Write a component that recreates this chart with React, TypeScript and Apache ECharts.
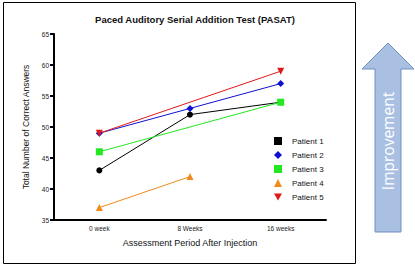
import React, { useEffect, useRef } from "react";
import * as echarts from "echarts";

const categories = ["0 week", "8 Weeks", "16 weeks"];
const patient1 = [43, 52, 54];
const patient2 = [49, 53, 57];
const patient3 = [46, null, 54];
const patient4 = [37, 42, null];
const patient5 = [49, null, 59];
const seriesNames = ["Patient 1", "Patient 2", "Patient 3", "Patient 4", "Patient 5"];
const seriesColors = ["#000000", "#1010d0", "#22e822", "#f08a1c", "#e01818"];

export default function App() {
  const ref = useRef<HTMLDivElement>(null);
  useEffect(() => {
    if (!ref.current) return;
    const chart = echarts.init(ref.current, undefined, { renderer: "svg" });
    const data = [patient1, patient2, patient3, patient4, patient5];
    const symbols = ["circle", "diamond", "rect", "triangle", "path://M0,0 L10,0 L5,9 Z"];
    const legendIcons = ["rect", "diamond", "rect", "triangle", "path://M0,0 L10,0 L5,9 Z"];
    const sizes = [6, 7, 7, 7, 7];
    chart.setOption({
      animation: false,
      backgroundColor: "#ffffff",
      title: {
        text: "Paced Auditory Serial Addition Test (PASAT)",
        left: 190,
        textAlign: "center",
        top: 9,
        textStyle: { fontFamily: "Arial, Liberation Sans", fontSize: 9.5, fontWeight: "bold", color: "#111" },
      },
      grid: { left: 54, right: 89, top: 34, bottom: 50 },
      legend: {
        orient: "vertical",
        left: 269,
        top: 132,
        itemGap: 6,
        itemWidth: 8,
        itemHeight: 8,
        textStyle: { fontFamily: "Arial, Liberation Sans", fontSize: 8, color: "#111", padding: [0, 0, 0, 5] },
        data: seriesNames.map((n, i) => ({ name: n, icon: legendIcons[i] })),
      },
      xAxis: {
        type: "category",
        data: categories,
        boundaryGap: true,
        name: "Assessment Period After Injection",
        nameLocation: "middle",
        nameGap: 18,
        nameTextStyle: { fontFamily: "Arial, Liberation Sans", fontSize: 9, color: "#111" },
        axisLine: { lineStyle: { color: "#000", width: 2 } },
        axisTick: { alignWithLabel: true, length: 4, lineStyle: { color: "#000", width: 2 } },
        axisLabel: { fontFamily: "Arial, Liberation Sans", fontSize: 6.5, color: "#222", margin: 5 },
      },
      yAxis: {
        type: "value",
        min: 35,
        max: 65,
        interval: 5,
        name: "Total Number of Correct Answers",
        nameLocation: "middle",
        nameGap: 21,
        nameTextStyle: { fontFamily: "Arial, Liberation Sans", fontSize: 8.5, color: "#111" },
        axisLine: { show: true, lineStyle: { color: "#000", width: 2 } },
        axisTick: { show: true, length: 4, lineStyle: { color: "#000", width: 2 } },
        axisLabel: { fontFamily: "Arial, Liberation Sans", fontSize: 6.5, color: "#222", margin: 5 },
        splitLine: { show: false },
      },
      series: data.map((d, i) => ({
        name: seriesNames[i],
        type: "line",
        data: d,
        connectNulls: true,
        symbol: symbols[i],
        symbolSize: sizes[i],
        itemStyle: { color: seriesColors[i] },
        lineStyle: { color: seriesColors[i], width: 1 },
      })),
      graphic: [
        {
          type: "rect",
          shape: { x: 3.5, y: 2.5, width: 352, height: 261 },
          style: { fill: "none", stroke: "#000", lineWidth: 1 },
          silent: true,
        },
        {
          type: "polygon",
          shape: {
            points: [
              [388, 43],
              [414, 69],
              [401, 69],
              [401, 232],
              [375, 232],
              [375, 69],
              [362, 69],
            ],
          },
          style: { fill: "#aac0e2", stroke: "#6f8fc0", lineWidth: 1 },
        },
        {
          type: "text",
          x: 388,
          y: 141,
          rotation: Math.PI / 2,
          style: {
            text: "Improvement",
            fill: "#ffffff",
            font: "15.5px 'Open Sans', Lato, sans-serif",
            textAlign: "center",
            textVerticalAlign: "middle",
          },
        },
      ],
    });
    return () => chart.dispose();
  }, []);
  return <div ref={ref} style={{ width: 415, height: 270, position: "absolute", left: 0, top: 0 }} />;
}
